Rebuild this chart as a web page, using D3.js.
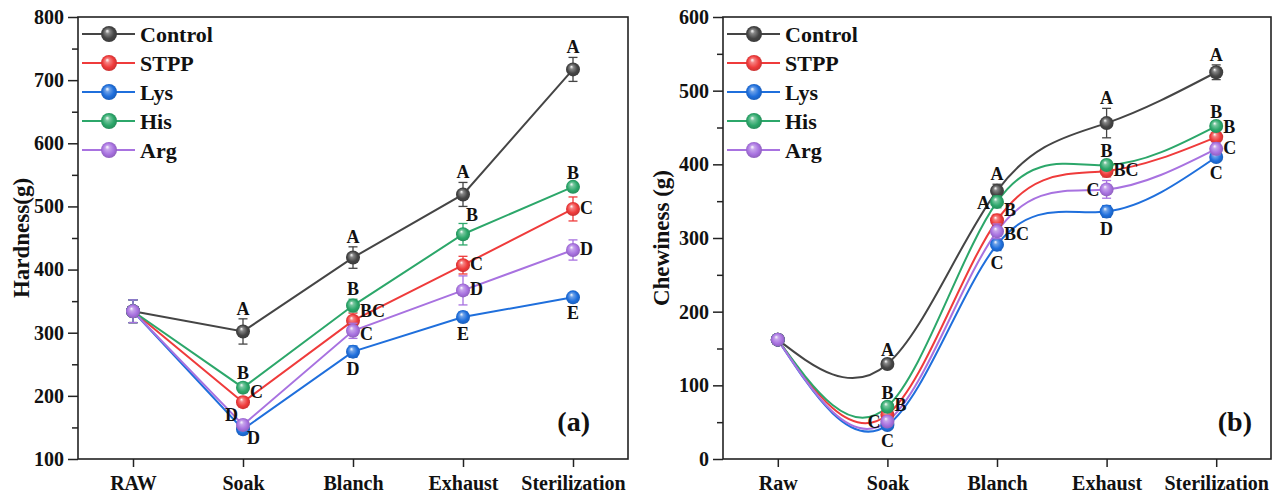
<!DOCTYPE html>
<html>
<head>
<meta charset="utf-8">
<script src="https://cdn.jsdelivr.net/npm/d3@7"></script>
<style>
  body { margin: 0; background: #fff; }
  text { font-family: "Liberation Serif", "Times New Roman", serif; font-weight: bold; }
</style>
</head>
<body>
<svg id="chart" width="1273" height="496"></svg>
<script>
// ---- series shared by both panels ----
const seriesNames = ["Control", "STPP", "Lys", "His", "Arg"];
const seriesColors = ["#454545", "#ef3b3b", "#1f6fdc", "#2ca76a", "#a872e0"];

// ---- (a) Hardness ----
const hardnessStages = ["RAW", "Soak", "Blanch", "Exhaust", "Sterilization"];
const hardnessTicks = [100, 200, 300, 400, 500, 600, 700, 800];

const hardnessControl = [334, 302, 419, 519, 717];
const hardnessSTPP    = [334, 190, 319, 407, 496];
const hardnessLys     = [334, 147, 270, 325, 356];
const hardnessHis     = [334, 213, 343, 456, 531];
const hardnessArg     = [334, 154, 303, 367, 431];

const hardnessErrControl = [18, 20, 17, 19, 19];
const hardnessErrSTPP    = [18, 8, 12, 14, 19];
const hardnessErrLys     = [18, 6, 9, 8, 5];
const hardnessErrHis     = [18, 8, 10, 17, 6];
const hardnessErrArg     = [18, 8, 12, 23, 16];

const hardnessLetControl = ["", "A", "A", "A", "A"];
const hardnessLetSTPP    = ["", "C", "BC", "C", "C"];
const hardnessLetLys     = ["", "D", "D", "E", "E"];
const hardnessLetHis     = ["", "B", "B", "B", "B"];
const hardnessLetArg     = ["", "D", "C", "D", "D"];

// ---- (b) Chewiness ----
const chewinessStages = ["Raw", "Soak", "Blanch", "Exhaust", "Sterilization"];
const chewinessTicks = [0, 100, 200, 300, 400, 500, 600];

const chewinessControl = [162, 129, 364, 456, 525];
const chewinessSTPP    = [162, 60, 324, 391, 437];
const chewinessLys     = [162, 46, 291, 336, 410];
const chewinessHis     = [162, 71, 349, 399, 452];
const chewinessArg     = [162, 51, 309, 366, 421];

const chewinessErrControl = [5, 6, 9, 20, 10];
const chewinessErrSTPP    = [5, 5, 8, 8, 6];
const chewinessErrLys     = [5, 5, 8, 8, 6];
const chewinessErrHis     = [5, 5, 8, 6, 6];
const chewinessErrArg     = [5, 6, 10, 12, 8];

const chewinessLetControl = ["", "A", "A", "A", "A"];
const chewinessLetSTPP    = ["", "B", "B", "BC", "B"];
const chewinessLetLys     = ["", "C", "C", "D", "C"];
const chewinessLetHis     = ["", "B", "A", "B", "B"];
const chewinessLetArg     = ["", "C", "BC", "C", "C"];

// where each significance letter sits relative to its point
const hardnessSides = [
  ["", "t", "t", "t", "t"],
  ["", "ur", "ur", "r", "r"],
  ["", "br", "b", "b", "b"],
  ["", "t", "t", "tr", "t"],
  ["", "tl", "lr", "r", "r"]
];
const chewinessSides = [
  ["", "t", "t", "t", "t"],
  ["", "ur", "ur", "r", "ur"],
  ["", "b", "b", "b", "b"],
  ["", "t", "l", "t", "t"],
  ["", "l", "lr", "l", "r"]
];

const svg = d3.select("#chart");
const defs = svg.append("defs");

// glossy sphere fill for every series
seriesColors.forEach((c, i) => {
  const g = defs.append("radialGradient")
    .attr("id", "ball" + i)
    .attr("cx", "50%").attr("cy", "50%").attr("r", "55%")
    .attr("fx", "38%").attr("fy", "30%");
  g.append("stop").attr("offset", "0%").attr("stop-color", "#ffffff").attr("stop-opacity", 0.95);
  g.append("stop").attr("offset", "25%").attr("stop-color", d3.interpolateRgb(c, "#fff")(0.35));
  g.append("stop").attr("offset", "65%").attr("stop-color", c);
  g.append("stop").attr("offset", "100%").attr("stop-color", d3.color(c).darker(0.6));
});

function drawPanel(cfg) {
  const { left, right, top, bottom } = cfg.box;
  const g = svg.append("g");

  const x = d3.scalePoint().domain(cfg.stages).range([left, right]).padding(0.5);
  const y = d3.scaleLinear().domain(cfg.domain).range([bottom, top]);

  // minor ticks
  const minor = [];
  for (let v = cfg.domain[0] + cfg.step / 2; v < cfg.domain[1]; v += cfg.step) minor.push(v);
  g.append("g").attr("transform", `translate(${left},0)`)
    .call(d3.axisLeft(y).tickValues(minor).tickSize(6).tickFormat(""))
    .call(a => a.select(".domain").remove())
    .selectAll("line").attr("stroke", "#222").attr("stroke-width", 1.5);

  // y axis
  const ya = g.append("g").attr("transform", `translate(${left},0)`)
    .call(d3.axisLeft(y).tickValues(cfg.ticks).tickSize(10).tickPadding(4).tickFormat(d3.format("d")));
  ya.select(".domain").remove();
  ya.selectAll("line").attr("stroke", "#222").attr("stroke-width", 1.5);
  ya.selectAll("text").attr("font-size", 20).attr("fill", "#111")
    .style("font-family", "'Liberation Serif', serif").style("font-weight", "bold");

  // x axis
  const xa = g.append("g").attr("transform", `translate(0,${bottom})`)
    .call(d3.axisBottom(x).tickSize(8).tickPadding(9));
  xa.select(".domain").remove();
  xa.selectAll("line").attr("stroke", "#222").attr("stroke-width", 1.5);
  xa.selectAll("text").attr("font-size", 20).attr("fill", "#111")
    .style("font-family", "'Liberation Serif', serif").style("font-weight", "bold");

  // frame
  g.append("rect")
    .attr("x", left).attr("y", top)
    .attr("width", right - left).attr("height", bottom - top)
    .attr("fill", "none").attr("stroke", "#222").attr("stroke-width", 1.6);

  // axis title
  g.append("text")
    .attr("transform", `translate(${cfg.titleX},${(top + bottom) / 2}) rotate(-90)`)
    .attr("text-anchor", "middle")
    .attr("font-size", 23).attr("fill", "#111")
    .text(cfg.title);

  const line = d3.line()
    .x((d, i) => x(cfg.stages[i]))
    .y(d => y(d))
    .curve(cfg.curve);

  // lines
  cfg.values.forEach((vals, s) => {
    g.append("path").datum(vals)
      .attr("d", line)
      .attr("fill", "none")
      .attr("stroke", seriesColors[s])
      .attr("stroke-width", 2);
  });

  // error bars and markers
  cfg.values.forEach((vals, s) => {
    const col = seriesColors[s];
    const eg = g.append("g");
    vals.forEach((v, i) => {
      const e = cfg.errors[s][i];
      const cx = x(cfg.stages[i]);
      eg.append("line").attr("x1", cx).attr("x2", cx)
        .attr("y1", y(v - e)).attr("y2", y(v + e))
        .attr("stroke", col).attr("stroke-width", 1.3);
      [v - e, v + e].forEach(w => {
        eg.append("line").attr("x1", cx - 4.5).attr("x2", cx + 4.5)
          .attr("y1", y(w)).attr("y2", y(w))
          .attr("stroke", col).attr("stroke-width", 1.3);
      });
    });
    g.append("g").selectAll("circle").data(vals).join("circle")
      .attr("cx", (d, i) => x(cfg.stages[i]))
      .attr("cy", d => y(d))
      .attr("r", 7)
      .attr("fill", `url(#ball${s})`);
  });

  // significance letters
  const lg = g.append("g").attr("font-size", 18).attr("fill", "#111");
  cfg.values.forEach((vals, s) => {
    vals.forEach((v, i) => {
      const t = cfg.letters[s][i];
      if (!t) return;
      const e = cfg.errors[s][i];
      const cx = x(cfg.stages[i]);
      const cy = y(v);
      let px = cx, py = cy, anchor = "middle";
      switch (cfg.sides[s][i]) {
        case "t": py = y(v + e) - 4; break;
        case "b": py = y(v - e) + 18; break;
        case "r": px = cx + 7; py = cy + 5; anchor = "start"; break;
        case "ur": px = cx + 7; py = cy - 4; anchor = "start"; break;
        case "lr": px = cx + 7; py = cy + 9; anchor = "start"; break;
        case "l": px = cx - 7; py = cy + 7; anchor = "end"; break;
        case "tl": px = cx - 5; py = cy - 4; anchor = "end"; break;
        case "tr": px = cx + 3; py = y(v + e) - 2; anchor = "start"; break;
        case "br": px = cx + 4; py = cy + 15; anchor = "start"; break;
      }
      lg.append("text").attr("x", px).attr("y", py)
        .attr("text-anchor", anchor).text(t);
    });
  });

  // legend
  const leg = g.append("g");
  seriesNames.forEach((name, s) => {
    const ry = 34 + s * 29;
    leg.append("line")
      .attr("x1", left + 4).attr("x2", left + 57)
      .attr("y1", ry).attr("y2", ry)
      .attr("stroke", seriesColors[s]).attr("stroke-width", 2);
    leg.append("circle")
      .attr("cx", left + 31).attr("cy", ry).attr("r", 8)
      .attr("fill", `url(#ball${s})`);
    leg.append("text")
      .attr("x", left + 62).attr("y", ry).attr("dy", "0.35em")
      .attr("font-size", 22).attr("fill", "#111")
      .text(name);
  });

  // panel tag
  g.append("text")
    .attr("x", cfg.tagX).attr("y", 431)
    .attr("text-anchor", "end")
    .attr("font-size", 28).attr("fill", "#111")
    .text(cfg.tag);
}

drawPanel({
  box: { left: 78, right: 628, top: 17, bottom: 459 },
  stages: hardnessStages,
  domain: [100, 800], step: 100, ticks: hardnessTicks,
  title: "Hardness(g)", titleX: 29,
  curve: d3.curveLinear,
  values: [hardnessControl, hardnessSTPP, hardnessLys, hardnessHis, hardnessArg],
  errors: [hardnessErrControl, hardnessErrSTPP, hardnessErrLys, hardnessErrHis, hardnessErrArg],
  letters: [hardnessLetControl, hardnessLetSTPP, hardnessLetLys, hardnessLetHis, hardnessLetArg],
  sides: hardnessSides,
  tag: "(a)", tagX: 590
});

drawPanel({
  box: { left: 723, right: 1271, top: 17, bottom: 459 },
  stages: chewinessStages,
  domain: [0, 600], step: 100, ticks: chewinessTicks,
  title: "Chewiness (g)", titleX: 669,
  curve: d3.curveNatural,
  values: [chewinessControl, chewinessSTPP, chewinessLys, chewinessHis, chewinessArg],
  errors: [chewinessErrControl, chewinessErrSTPP, chewinessErrLys, chewinessErrHis, chewinessErrArg],
  letters: [chewinessLetControl, chewinessLetSTPP, chewinessLetLys, chewinessLetHis, chewinessLetArg],
  sides: chewinessSides,
  tag: "(b)", tagX: 1252
});
</script>
</body>
</html>
